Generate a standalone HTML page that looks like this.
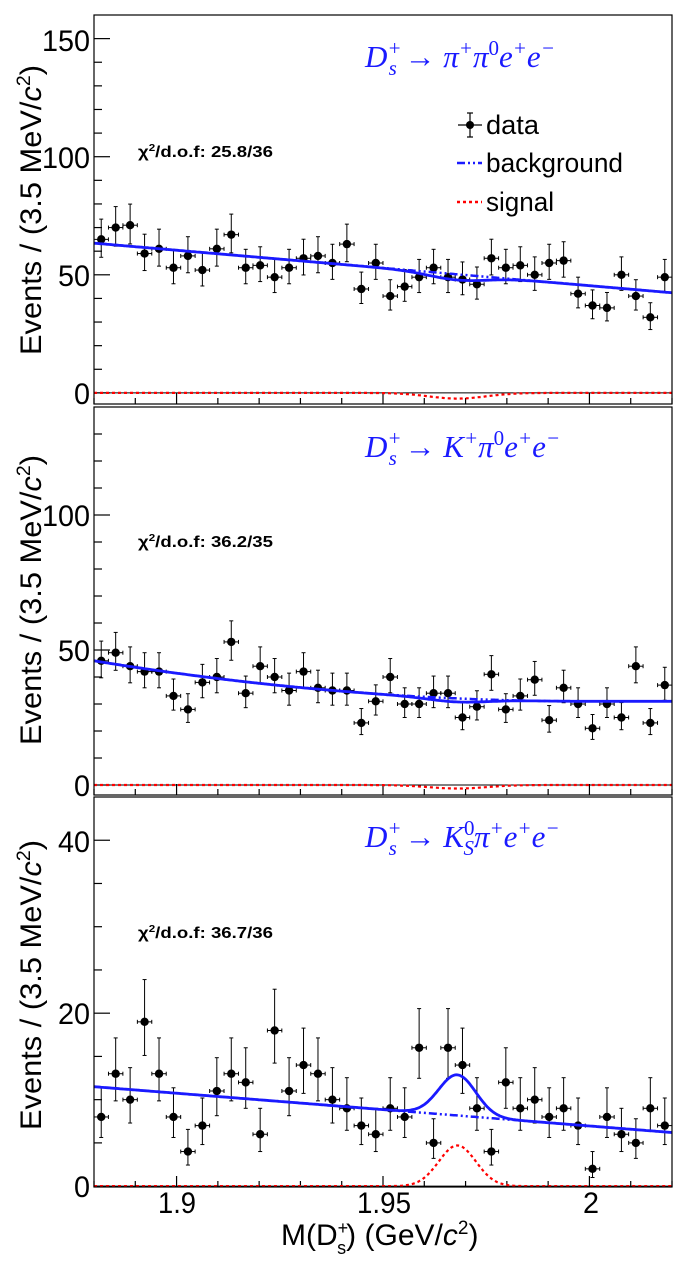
<!DOCTYPE html>
<html><head><meta charset="utf-8"><style>
html,body{margin:0;padding:0;background:#fff;width:685px;height:1267px;overflow:hidden}
svg{display:block}
text{font-family:"Liberation Sans",sans-serif}
.tl{font-size:30px}
.dec{font-family:"Liberation Serif",serif;font-style:italic;fill:#1a1aff;font-size:31px}
.chi{font-weight:bold;font-size:16px}
</style></head><body>
<svg id="s" width="685" height="1267" xmlns="http://www.w3.org/2000/svg">
<g id="g"></g>
<text class="tl" x="90" y="51" text-anchor="end" textLength="48" lengthAdjust="spacingAndGlyphs">150</text>
<text class="tl" x="90" y="168" text-anchor="end" textLength="48" lengthAdjust="spacingAndGlyphs">100</text>
<text class="tl" x="90" y="286" text-anchor="end" textLength="32" lengthAdjust="spacingAndGlyphs">50</text>
<text class="tl" x="90" y="404" text-anchor="end" textLength="16" lengthAdjust="spacingAndGlyphs">0</text>
<text class="tl" x="90" y="526" text-anchor="end" textLength="48" lengthAdjust="spacingAndGlyphs">100</text>
<text class="tl" x="90" y="661" text-anchor="end" textLength="32" lengthAdjust="spacingAndGlyphs">50</text>
<text class="tl" x="90" y="796" text-anchor="end" textLength="16" lengthAdjust="spacingAndGlyphs">0</text>
<text class="tl" x="90" y="852" text-anchor="end" textLength="32" lengthAdjust="spacingAndGlyphs">40</text>
<text class="tl" x="90" y="1024" text-anchor="end" textLength="32" lengthAdjust="spacingAndGlyphs">20</text>
<text class="tl" x="90" y="1197" text-anchor="end" textLength="16" lengthAdjust="spacingAndGlyphs">0</text>
<text class="tl" x="177" y="1213" text-anchor="middle" textLength="38" lengthAdjust="spacingAndGlyphs">1.9</text>
<text class="tl" x="384" y="1213" text-anchor="middle" textLength="54" lengthAdjust="spacingAndGlyphs">1.95</text>
<text class="tl" x="591" y="1213" text-anchor="middle" textLength="16" lengthAdjust="spacingAndGlyphs">2</text>
<text class="tl" transform="translate(41,210) rotate(-90)" text-anchor="middle" font-size="29" textLength="290" lengthAdjust="spacingAndGlyphs">Events / (3.5 MeV/<tspan font-style="italic">c</tspan><tspan dy="-11" font-size="19">2</tspan><tspan dy="11">)</tspan></text>
<text class="tl" transform="translate(41,600) rotate(-90)" text-anchor="middle" font-size="29" textLength="290" lengthAdjust="spacingAndGlyphs">Events / (3.5 MeV/<tspan font-style="italic">c</tspan><tspan dy="-11" font-size="19">2</tspan><tspan dy="11">)</tspan></text>
<text class="tl" transform="translate(41,985) rotate(-90)" text-anchor="middle" font-size="29" textLength="290" lengthAdjust="spacingAndGlyphs">Events / (3.5 MeV/<tspan font-style="italic">c</tspan><tspan dy="-11" font-size="19">2</tspan><tspan dy="11">)</tspan></text>
<text class="tl" x="281" y="1245" font-size="29">M(D<tspan font-size="18" dy="-11">+</tspan><tspan font-size="18" dx="-11" dy="20">s</tspan><tspan dy="-9">) (GeV/</tspan><tspan font-style="italic">c</tspan><tspan dy="-11" font-size="19">2</tspan><tspan dy="11">)</tspan></text>
<text class="chi" x="138" y="157" textLength="135" lengthAdjust="spacingAndGlyphs">χ<tspan font-size="10" dy="-6">2</tspan><tspan dy="6">/d.o.f: 25.8/36</tspan></text>
<text class="chi" x="138" y="547" textLength="135" lengthAdjust="spacingAndGlyphs">χ<tspan font-size="10" dy="-6">2</tspan><tspan dy="6">/d.o.f: 36.2/35</tspan></text>
<text class="chi" x="138" y="938" textLength="135" lengthAdjust="spacingAndGlyphs">χ<tspan font-size="10" dy="-6">2</tspan><tspan dy="6">/d.o.f: 36.7/36</tspan></text>
<text class="dec" x="365" y="67">D<tspan font-size="21" dy="-12">+</tspan><tspan font-size="21" dx="-13" dy="20">s</tspan><tspan dy="-8" font-style="normal"> → </tspan>π<tspan font-size="21" dy="-12">+</tspan><tspan dy="12">π</tspan><tspan font-size="21" dy="-12" font-style="normal">0</tspan><tspan dy="12">e</tspan><tspan font-size="21" dy="-12">+</tspan><tspan dy="12">e</tspan><tspan font-size="21" dy="-12">−</tspan></text>
<text class="dec" x="365" y="457">D<tspan font-size="21" dy="-12">+</tspan><tspan font-size="21" dx="-13" dy="20">s</tspan><tspan dy="-8" font-style="normal"> → </tspan>K<tspan font-size="21" dy="-12">+</tspan><tspan dy="12">π</tspan><tspan font-size="21" dy="-12" font-style="normal">0</tspan><tspan dy="12">e</tspan><tspan font-size="21" dy="-12">+</tspan><tspan dy="12">e</tspan><tspan font-size="21" dy="-12">−</tspan></text>
<text class="dec" x="365" y="847">D<tspan font-size="21" dy="-12">+</tspan><tspan font-size="21" dx="-13" dy="20">s</tspan><tspan dy="-8" font-style="normal"> → </tspan>K<tspan font-size="21" dy="-12" font-style="normal">0</tspan><tspan font-size="21" dx="-11" dy="20">S</tspan><tspan dy="-8">π</tspan><tspan font-size="21" dy="-12">+</tspan><tspan dy="12">e</tspan><tspan font-size="21" dy="-12">+</tspan><tspan dy="12">e</tspan><tspan font-size="21" dy="-12">−</tspan></text>
<line x1="458" y1="125" x2="482" y2="125" stroke="#000" stroke-width="1.2"/>
<line x1="470" y1="113" x2="470" y2="137" stroke="#000" stroke-width="1.2"/>
<line x1="467" y1="113" x2="473" y2="113" stroke="#000" stroke-width="1.2"/>
<line x1="467" y1="137" x2="473" y2="137" stroke="#000" stroke-width="1.2"/>
<circle cx="470" cy="125" r="4" fill="#000"/>
<text x="486" y="134" font-size="27" textLength="53" lengthAdjust="spacingAndGlyphs">data</text>
<line x1="457" y1="163" x2="482" y2="163" stroke="#1a1aff" stroke-width="2.5" stroke-dasharray="8,3,2,3,2,3"/>
<text x="486" y="172" font-size="27" textLength="137" lengthAdjust="spacingAndGlyphs">background</text>
<line x1="457" y1="202" x2="482" y2="202" stroke="#ff0000" stroke-width="2.5" stroke-dasharray="3,3"/>
<text x="486" y="211" font-size="27" textLength="68" lengthAdjust="spacingAndGlyphs">signal</text>
</svg>
<script>
var NS="http://www.w3.org/2000/svg",G=document.getElementById("g");
function el(t,a){var e=document.createElementNS(NS,t);for(var k in a)e.setAttribute(k,a[k]);G.appendChild(e);return e;}
var L=94,R=672;function X(m){return L+(m-1.88)/0.14*(R-L);}
function panel(top,bot,ymin,ymax,data,bkg,sig,minor,major){
 function Y(v){return bot-(v-ymin)/(ymax-ymin)*(bot-top);}
 for(var v=0;v<=ymax;v+=minor){var y=Y(v);if(y<top+1)continue;var len=(Math.abs(v%major)<1e-9)?16:8;el("line",{x1:L,y1:y,x2:L+len,y2:y,stroke:"#000","stroke-width":1.2});}
 for(var i=0;i<=14;i++){var m=1.88+i*0.01;var x=X(m);var len=(i==2||i==7||i==12)?11:6;el("line",{x1:x,y1:bot,x2:x,y2:bot-len,stroke:"#000","stroke-width":1.2});}
 var ps="",pb="",pt="";
 for(var j=0;j<=400;j++){var m=1.88+j*0.14/400;var s=sig(m),b=bkg(m);var x=X(m).toFixed(1);
  ps+=(j?"L":"M")+x+","+Y(s).toFixed(1);pb+=(j?"L":"M")+x+","+Y(b).toFixed(1);pt+=(j?"L":"M")+x+","+Y(b+s).toFixed(1);}
 el("line",{x1:L,y1:Y(0),x2:R,y2:Y(0),stroke:"#000","stroke-width":1});
 el("path",{d:ps,fill:"none",stroke:"#ff0000","stroke-width":2.2,"stroke-dasharray":"3,3"});
 for(var i=0;i<data.length;i++){var n=data[i],m=1.88175+i*0.0035,x=X(m),y=Y(n);
  var up=Math.sqrt(n+0.25)+0.5,dn=Math.sqrt(n+0.25)-0.5;
  el("line",{x1:x,y1:Y(n+up),x2:x,y2:Y(n-dn),stroke:"#000","stroke-width":1});
  el("line",{x1:x-2,y1:Y(n+up),x2:x+2,y2:Y(n+up),stroke:"#000","stroke-width":1});
  el("line",{x1:x-2,y1:Y(n-dn),x2:x+2,y2:Y(n-dn),stroke:"#000","stroke-width":1});
  el("line",{x1:x-7.2,y1:y,x2:x+7.2,y2:y,stroke:"#000","stroke-width":1});
  el("line",{x1:x-7.2,y1:y-2,x2:x-7.2,y2:y+2,stroke:"#000","stroke-width":1});
  el("line",{x1:x+7.2,y1:y-2,x2:x+7.2,y2:y+2,stroke:"#000","stroke-width":1});
  el("circle",{cx:x,cy:y,r:4.2,fill:"#000"});}
 el("path",{d:pb,fill:"none",stroke:"#1a1aff","stroke-width":2.5,"stroke-dasharray":"8,3,2,3,2,3"});
 el("path",{d:pt,fill:"none",stroke:"#1a1aff","stroke-width":2.8});
 el("rect",{x:L,y:top,width:R-L,height:bot-top,fill:"none",stroke:"#000","stroke-width":1.2});
}
function gs(a,mu,s){return function(m){return a*Math.exp(-0.5*Math.pow((m-mu)/s,2));};}
panel(15,404,-4.7,160,[65,70,71,59,61,53,58,52,61,67,53,54,49,53,57,58,55,63,44,55,41,45,49,53,49,48,46,57,53,54,50,55,56,42,37,36,50,41,32,49],
 function(m){return 63.4-(m-1.88)/0.14*21;},gs(-2.4,1.968,0.007),10,50);
panel(407,795,-3.7,140,[46,49,44,42,42,33,28,38,40,53,34,44,40,35,42,36,35,35,23,31,40,30,30,34,34,25,29,41,28,33,39,24,36,30,21,30,25,44,23,37],
 function(m){return m<2.0?31+15*Math.pow((2.0-m)/0.12,2):31;},gs(-1.3,1.968,0.007),10,50);
panel(797,1187,-0.1,45,[8,13,10,19,13,8,4,7,11,13,12,6,18,11,14,13,10,9,7,6,9,8,16,5,16,14,9,4,12,9,10,8,9,7,2,8,6,5,9,7],
 function(m){return 11.5-(m-1.88)/0.14*5.3;},gs(4.7,1.968,0.0045),5,20);
</script>
</body></html>
